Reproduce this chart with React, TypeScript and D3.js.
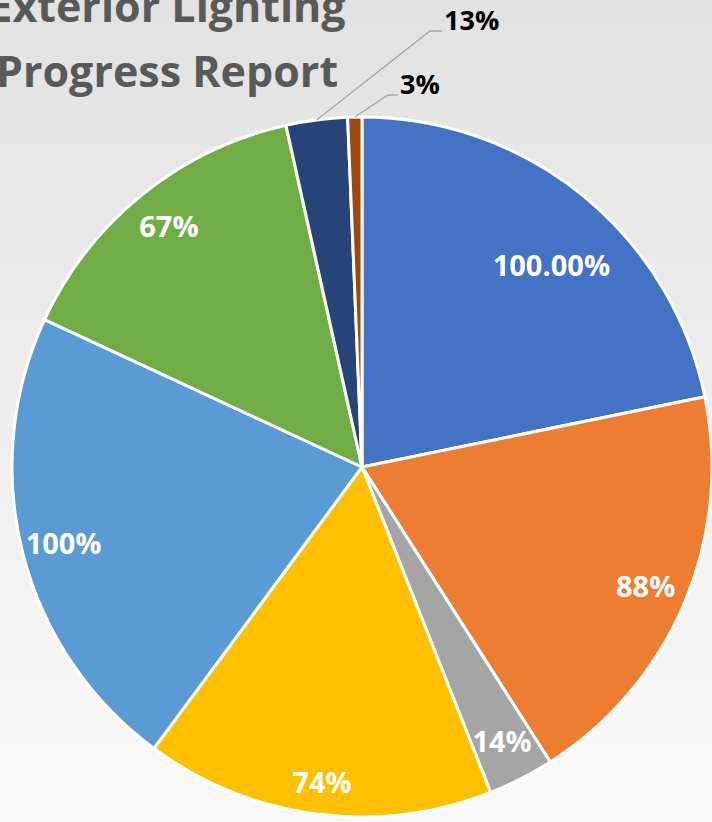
import * as d3 from "d3";

const categories = ["A", "B", "C", "D", "E", "F", "G", "H"];
const values = [100, 88, 14, 74, 100, 67, 13, 3];
const labels = ["100.00%", "88%", "14%", "74%", "100%", "67%", "13%", "3%"];
const colors = ["#4472C4", "#ED7D31", "#A5A5A5", "#FFC000", "#5B9BD5", "#70AD47", "#264478", "#9E480E"];

const W = 712;
const H = 822;
const cx = 362;
const cy = 467;
const R = 350;
const FONT = "'Open Sans', 'DejaVu Sans', sans-serif";

// labels outside the pie: elbow point and short horizontal run
const outside: Record<number, { ex: number; ey: number; len: number }> = {
  6: { ex: 430, ey: 31, len: 12 },
  7: { ex: 388, ey: 95, len: 10 },
};

export default function App() {
  const pie = d3
    .pie<number>()
    .sort(null)
    .value((d) => d);
  const arcs = pie(values);
  const arc = d3.arc<d3.PieArcDatum<number>>().innerRadius(0).outerRadius(R);
  const labelArc = d3
    .arc<d3.PieArcDatum<number>>()
    .innerRadius(R * 0.88)
    .outerRadius(R * 0.88);
  const edgeArc = d3.arc<d3.PieArcDatum<number>>().innerRadius(R).outerRadius(R);

  return (
    <svg width={W} height={H} style={{ position: "absolute", left: 0, top: 0 }}>
      <defs>
        <linearGradient id="bg" x1="0" y1="0" x2="0" y2="1">
          <stop offset="0" stopColor="#e2e2e2" />
          <stop offset="1" stopColor="#fafafa" />
        </linearGradient>
      </defs>
      <rect width={W} height={H} fill="url(#bg)" />
      <text
        x={167}
        textAnchor="middle"
        fontFamily={FONT}
        fontWeight={700}
        fontSize={43}
        fill="#595959"
      >
        <tspan x={167} y={22}>Exterior Lighting</tspan>
        <tspan x={167} y={87}>Progress Report</tspan>
      </text>
      <g transform={`translate(${cx},${cy})`}>
        {arcs.map((a, i) => (
          <path
            key={categories[i]}
            d={arc(a) ?? ""}
            fill={colors[i]}
            stroke="#ffffff"
            strokeWidth={3}
            strokeLinejoin="round"
          />
        ))}
        {arcs.map((a, i) => {
          if (outside[i]) return null;
          let [x, y] = labelArc.centroid(a);
          if (i === 0) {
            const ang = (a.startAngle + a.endAngle) / 2 + 0.07;
            x = Math.sin(ang) * R * 0.79;
            y = -Math.cos(ang) * R * 0.79;
          }
          if (i === 3) y += 10;
          return (
            <text
              key={"l" + i}
              x={x}
              y={y}
              dy="0.36em"
              textAnchor="middle"
              fontFamily={FONT}
              fontWeight={700}
              fontSize={29}
              fill="#ffffff"
            >
              {labels[i]}
            </text>
          );
        })}
      </g>
      {arcs.map((a, i) => {
        const o = outside[i];
        if (!o) return null;
        const [sx, sy] = edgeArc.centroid(a);
        return (
          <g key={"o" + i}>
            <polyline
              points={`${cx + sx},${cy + sy} ${o.ex},${o.ey} ${o.ex + o.len},${o.ey}`}
              fill="none"
              stroke="#a6a6a6"
              strokeWidth={1.3}
            />
            <text
              x={o.ex + o.len + 2}
              y={o.ey - 1}
              fontFamily={FONT}
              fontWeight={700}
              fontSize={27}
              fill="#000000"
            >
              {labels[i]}
            </text>
          </g>
        );
      })}
    </svg>
  );
}
